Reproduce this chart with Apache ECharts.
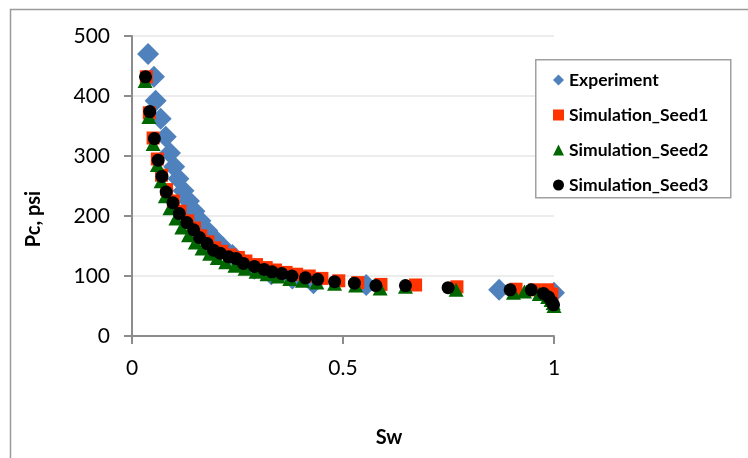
<!DOCTYPE html>
<html><head><meta charset="utf-8">
<script src="https://cdn.jsdelivr.net/npm/echarts@6/dist/echarts.min.js"></script>
<style>html,body{margin:0;padding:0;background:#fff}#c{width:748px;height:458px}</style>
</head><body><div id="c"></div>
<script>
const xTicks = [0, 0.5, 1];
const yTicks = [0, 100, 200, 300, 400, 500];

const expSw = [0.038,0.052,0.056,0.068,0.080,0.090,0.100,0.110,0.122,0.135,0.148,0.162,0.178,0.195,0.215,0.238,0.262,0.290,0.330,0.380,0.430,0.555,0.870,1.000];
const expPc = [470,432,392,362,332,305,282,262,242,225,208,192,176,162,148,135,122,112,103,96,88,85,77,72];

const s1Sw = [0.034,0.041,0.050,0.060,0.070,0.082,0.098,0.114,0.132,0.148,0.163,0.180,0.196,0.213,0.233,0.252,0.270,0.295,0.318,0.340,0.365,0.390,0.420,0.450,0.490,0.535,0.590,0.672,0.770,0.910,0.955,0.985,0.995];
const s1Pc = [432,372,330,295,268,244,225,208,192,180,167,157,147,141,135,131,125,119,114,110,106,103,100,96,92,89,86,85,82,78,77,77,70];

const s2Sw = [0.031,0.040,0.050,0.060,0.069,0.079,0.090,0.104,0.118,0.134,0.150,0.166,0.184,0.202,0.222,0.244,0.268,0.294,0.320,0.346,0.374,0.404,0.438,0.480,0.530,0.588,0.648,0.768,0.904,0.930,0.965,0.985,0.993,0.998,1.000];
const s2Pc = [425,365,320,285,258,233,213,196,181,168,156,146,137,130,123,117,112,107,103,99,95,92,89,87,84,79,82,77,72,74,70,65,60,55,50];

const s3Sw = [0.032,0.042,0.053,0.062,0.071,0.081,0.097,0.112,0.130,0.146,0.160,0.178,0.193,0.209,0.229,0.247,0.264,0.290,0.313,0.332,0.355,0.379,0.411,0.440,0.480,0.527,0.578,0.648,0.749,0.896,0.946,0.975,0.987,0.995,0.999];
const s3Pc = [432,374,329,293,266,240,222,204,189,177,164,154,143,138,132,129,121,116,111,107,104,100,97,94.5,90.5,88,84,84,80.5,77,77,71,65,57,52];

const names = ['Experiment','Simulation_Seed1','Simulation_Seed2','Simulation_Seed3'];

function pairs(xs, ys){ return xs.map((x,i)=>[x, ys[i]]); }

const FONT = 'Lato, "Open Sans", sans-serif';
const chart = echarts.init(document.getElementById('c'), null, {renderer:'canvas'});
chart.setOption({
  animation:false,
  backgroundColor:'#fff',
  graphic:[
    {type:'rect', left:8, top:7, shape:{x:0,y:0,width:760,height:470}, style:{fill:'none', stroke:'#9a9a9a', lineWidth:1.5}, z:-10, silent:true},
    {type:'rect', left:535, top:59, shape:{x:0,y:0,width:195,height:138}, style:{fill:'#fff', stroke:'#a0a0a0', lineWidth:1.5}, z:5, silent:true}
  ],
  grid:{left:132, right:194, top:36, bottom:122, containLabel:false},
  legend:{
    orient:'vertical', left:548, top:66, itemGap:17, itemWidth:11, itemHeight:11,
    data:[
      {name:names[0], icon:'diamond'},
      {name:names[1], icon:'rect'},
      {name:names[2], icon:'triangle'},
      {name:names[3], icon:'circle'}
    ],
    textStyle:{fontFamily:FONT, fontWeight:'bold', fontSize:17.5, color:'#000'},
    z:10
  },
  xAxis:{
    type:'value', min:xTicks[0], max:xTicks[xTicks.length-1], interval:0.5,
    name:'Sw', nameLocation:'middle', nameGap:92,
    nameTextStyle:{fontFamily:FONT, fontWeight:'bold', fontSize:20, color:'#000', padding:[0,0,0,92]},
    axisLine:{show:true, onZero:false, lineStyle:{color:'#8c8c8c', width:2}},
    axisTick:{show:true, inside:false, length:8, lineStyle:{color:'#8c8c8c', width:2}},
    axisLabel:{fontFamily:FONT, fontSize:21, color:'#000', margin:22,
      formatter:v=>String(v)},
    splitLine:{show:false}
  },
  yAxis:{
    type:'value', min:yTicks[0], max:yTicks[yTicks.length-1], interval:100,
    name:'Pc, psi', nameLocation:'middle', nameGap:88,
    nameTextStyle:{fontFamily:FONT, fontWeight:'bold', fontSize:20, color:'#000', padding:[0,66,0,0]},
    axisLine:{show:true, onZero:false, lineStyle:{color:'#8c8c8c', width:2}},
    axisTick:{show:true, inside:false, length:8, lineStyle:{color:'#8c8c8c', width:2}},
    axisLabel:{fontFamily:FONT, fontSize:21, color:'#000', margin:22},
    splitLine:{show:true, lineStyle:{color:'#ececec', width:2}}
  },
  series:[
    {name:names[0], type:'scatter', data:pairs(expSw, expPc), symbol:'diamond', symbolSize:[22,22],
      itemStyle:{color:'#4F81BD', opacity:1}, z:2},
    {name:names[1], type:'scatter', data:pairs(s1Sw, s1Pc), symbol:'rect', symbolSize:13,
      itemStyle:{color:'#FF3300', opacity:1}, z:3},
    {name:names[2], type:'scatter', data:pairs(s2Sw, s2Pc), symbol:'triangle', symbolSize:[15,14],
      itemStyle:{color:'#006600', opacity:1}, z:4},
    {name:names[3], type:'scatter', data:pairs(s3Sw, s3Pc), symbol:'circle', symbolSize:13,
      itemStyle:{color:'#000000', opacity:1}, z:5}
  ]
});
</script></body></html>
